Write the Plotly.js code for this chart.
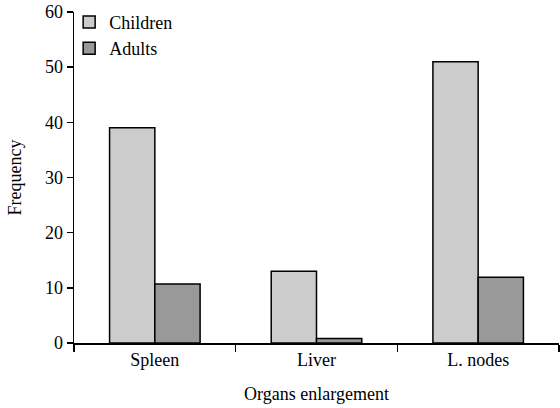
<!DOCTYPE html>
<html>
<head>
<meta charset="utf-8">
<script src="https://cdn.plot.ly/plotly-3.0.1.min.js"></script>
<style>html,body{margin:0;padding:0;background:#fff;}#chart{width:560px;height:408px;}</style>
</head>
<body>
<div id="chart"></div>
<script>
var categories = ["Spleen", "Liver", "L. nodes"];
var children = [39, 13, 51];
var adults = [10.7, 0.8, 11.9];
var seriesNames = ["Children", "Adults"];

var font = {family: "Liberation Serif, Times New Roman, serif", size: 18, color: "#000"};
var traces = [
  {type: "bar", x: categories, y: children, name: seriesNames[0],
   marker: {color: "#cccccc", line: {color: "#000", width: 1.5}}},
  {type: "bar", x: categories, y: adults, name: seriesNames[1],
   marker: {color: "#999999", line: {color: "#000", width: 1.5}}}
];
var layout = {
  width: 560, height: 408,
  margin: {l: 74, r: 1, t: 12, b: 65},
  paper_bgcolor: "#fff", plot_bgcolor: "#fff",
  font: font,
  barmode: "group", bargap: 0.44, bargroupgap: 0,
  showlegend: true,
  legend: {x: -0.01, y: 1.025, xanchor: "left", yanchor: "top", bgcolor: "rgba(0,0,0,0)",
           font: font, tracegroupgap: 0, itemwidth: 30},
  xaxis: {type: "category", showgrid: false, zeroline: false, showline: true,
          linecolor: "#000", linewidth: 1.5, ticks: "outside", tickson: "boundaries",
          ticklen: 7, tickwidth: 1.5, tickcolor: "#000",
          title: {text: "Organs enlargement", font: font, standoff: 18}},
  yaxis: {range: [0, 60], dtick: 10, showgrid: false, zeroline: false, showline: true,
          linecolor: "#000", linewidth: 1.5, ticks: "outside", ticklen: 6, tickwidth: 1.5,
          tickcolor: "#000", title: {text: "Frequency", font: font, standoff: 18}}
};
Plotly.newPlot("chart", traces, layout, {displayModeBar: false, staticPlot: true});
</script>
</body>
</html>
